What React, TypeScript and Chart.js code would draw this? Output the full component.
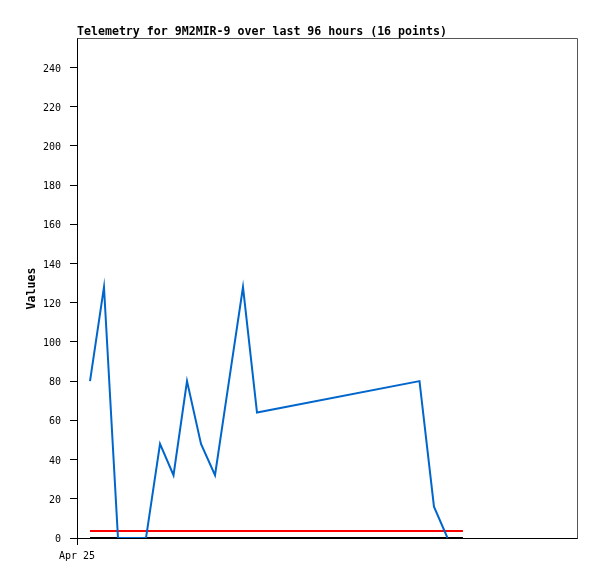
import React, { useEffect, useRef } from "react";
import { Chart, registerables } from "chart.js";

Chart.register(...registerables);

// Hours since the start of the x-axis ("Apr 25")
const times = [2.5, 5.18, 7.87, 10.56, 13.25, 15.94, 18.53, 21.12, 23.81, 26.5, 29.18, 31.87, 34.56, 65.76, 68.54, 71.14];
const values = [80, 128, 0, 0, 0, 48, 32, 80, 48, 32, 80, 128, 64, 80, 16, 0];
const refStart = 2.5;
const refEnd = 74.1;
const redLevel = 3.6;
const blackLevel = 0;
const yTicks = [0, 20, 40, 60, 80, 100, 120, 140, 160, 180, 200, 220, 240];
const xTickLabel = "Apr 25";
const titleText = "Telemetry for 9M2MIR-9 over last 96 hours (16 points)";
const yTitle = "Values";

const MONO = "'DejaVu Sans Mono', monospace";

const framePlugin = {
  id: "frame",
  afterDraw(chart: any) {
    const { ctx, chartArea } = chart;
    const { left, right, top, bottom } = chartArea;
    ctx.save();
    ctx.strokeStyle = "#555555";
    ctx.lineWidth = 1;
    ctx.beginPath();
    ctx.moveTo(Math.round(left) + 0.5, Math.round(top) + 0.5);
    ctx.lineTo(Math.round(right) + 0.5, Math.round(top) + 0.5);
    ctx.lineTo(Math.round(right) + 0.5, Math.round(bottom) + 0.5);
    ctx.stroke();
    // title
    ctx.fillStyle = "#000";
    ctx.font = `bold 11.6px ${MONO}`;
    ctx.textAlign = "left";
    ctx.textBaseline = "alphabetic";
    ctx.fillText(titleText, left, 35);
    // y-axis title
    ctx.translate(35, (top + bottom) / 2 + 0.5);
    ctx.rotate(-Math.PI / 2);
    ctx.textAlign = "center";
    ctx.fillText(yTitle, 0, 0);
    ctx.restore();
  },
};

export default function App() {
  const ref = useRef<HTMLCanvasElement>(null);
  useEffect(() => {
    const canvas = ref.current!;
    const chart = new Chart(canvas, {
      type: "line",
      data: {
        datasets: [
          {
            data: times.map((t, i) => ({ x: t, y: values[i] })),
            borderColor: "#0066cc",
            borderWidth: 2,
            pointRadius: 0,
            tension: 0,
          },
          {
            data: [
              { x: refStart, y: redLevel },
              { x: refEnd, y: redLevel },
            ],
            borderColor: "#ff0000",
            borderWidth: 2,
            pointRadius: 0,
          },
          {
            data: [
              { x: refStart, y: blackLevel },
              { x: refEnd, y: blackLevel },
            ],
            borderColor: "#000000",
            borderWidth: 2,
            pointRadius: 0,
          },
        ],
      },
      options: {
        responsive: false,
        animation: false,
        devicePixelRatio: 1,
        layout: { padding: { left: 0, right: 20, top: 38, bottom: 0 } },
        plugins: { legend: { display: false }, tooltip: { enabled: false }, title: { display: false } },
        scales: {
          x: {
            type: "linear",
            min: 0,
            max: 96,
            afterBuildTicks: (s: any) => {
              s.ticks = [{ value: 0 }];
            },
            afterFit: (s: any) => {
              s.height = 41;
            },
            grid: { drawOnChartArea: false, drawTicks: true, tickLength: 7, color: "#000" },
            border: { color: "#000", width: 1 },
            ticks: {
              color: "#000",
              font: { family: MONO, size: 10 },
              padding: 5,
              maxRotation: 0,
              autoSkip: false,
              callback: () => xTickLabel,
            },
          },
          y: {
            type: "linear",
            min: 0,
            max: 255,
            afterBuildTicks: (s: any) => {
              s.ticks = yTicks.map((v) => ({ value: v }));
            },
            afterFit: (s: any) => {
              s.width = 77;
            },
            grid: { drawOnChartArea: false, drawTicks: true, tickLength: 7, color: "#000" },
            border: { color: "#000", width: 1 },
            ticks: {
              color: "#000",
              font: { family: MONO, size: 10 },
              padding: 9,
              labelOffset: 1.5,
              autoSkip: false,
            },
          },
        },
      },
      plugins: [framePlugin],
    });
    return () => chart.destroy();
  }, []);
  return (
    <div style={{ position: "fixed", left: 0, top: 0, width: 597, height: 579, background: "#fff" }}>
      <canvas ref={ref} width={597} height={579} style={{ display: "block", width: 597, height: 579 }} />
    </div>
  );
}
